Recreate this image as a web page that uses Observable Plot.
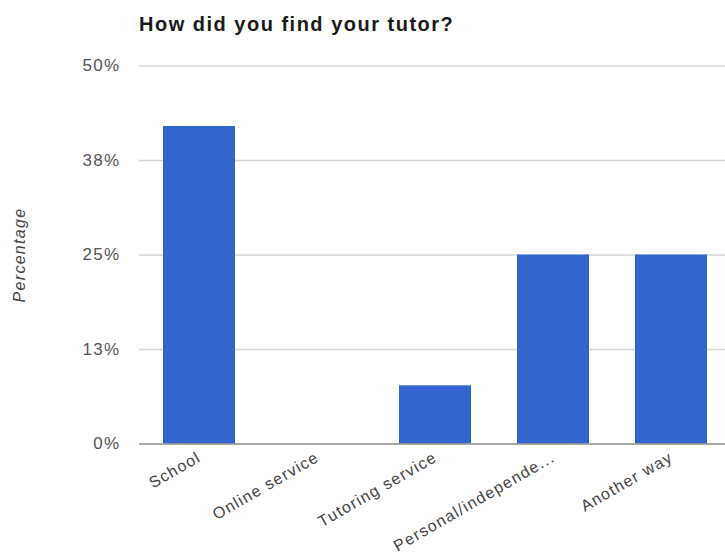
<!DOCTYPE html>
<html>
<head>
<meta charset="utf-8">
<script src="https://cdn.jsdelivr.net/npm/d3@7"></script>
<script src="https://cdn.jsdelivr.net/npm/@observablehq/plot@0.6"></script>
<style>
  body { margin: 0; background: #fff; font-family: Arial, "Liberation Sans", sans-serif; }
  #wrap { position: relative; width: 725px; height: 556px; overflow: hidden; }
  #title { position: absolute; left: 139px; top: 14px; font-size: 20px; line-height: 1; letter-spacing: 1.5px; font-weight: bold; color: #1a1a1a; }
  svg { display: block; }
  svg text { letter-spacing: 1.3px; }
</style>
</head>
<body>
<div id="wrap">
  <div id="chart"></div>
  <div id="title">How did you find your tutor?</div>
</div>
<script>
const categories = ["School", "Online service", "Tutoring service", "Personal/independe...", "Another way"];
const values = [42, 0, 7.7, 25, 25];
const yTicks = [0, 12.5, 25, 37.5, 50];
const yTickLabels = ["0%", "13%", "25%", "38%", "50%"];
const yTitle = "Percentage";

const data = categories.map((c, i) => ({category: c, value: values[i]}));

const chart = Plot.plot({
  width: 725,
  height: 556,
  marginLeft: 139,
  marginRight: -6,
  marginTop: 65.5,
  marginBottom: 112.5,
  style: {fontFamily: "Arial, 'Liberation Sans', sans-serif", fontSize: "17px", color: "#444", background: "#fff"},
  x: {domain: categories, paddingInner: 0.39, paddingOuter: 0.195, label: null},
  y: {domain: [0, 50], label: null},
  marks: [
    Plot.ruleY(yTicks.slice(1), {stroke: "#d6d6d6", strokeWidth: 1.5, strokeOpacity: 1}),
    Plot.barY(data, {x: "category", y: "value", fill: "#3366cc"}),
    Plot.ruleY([0], {stroke: "#8a8a8a", strokeWidth: 1.5}),
    Plot.axisY({ticks: yTicks, tickFormat: (d) => yTickLabels[yTicks.indexOf(d)], tickSize: 0, tickPadding: 19, label: null, fill: "#555", fontSize: 17}),
    Plot.axisX({tickSize: 0, tickPadding: 12, tickRotate: -30, label: null, fill: "#444", fontSize: 16}),
    Plot.text([yTitle], {frameAnchor: "left", textAnchor: "middle", dx: -120, rotate: -90, fontStyle: "italic", fontSize: 16, fill: "#444", text: d => d})
  ]
});
document.getElementById("chart").appendChild(chart);
</script>
</body>
</html>
